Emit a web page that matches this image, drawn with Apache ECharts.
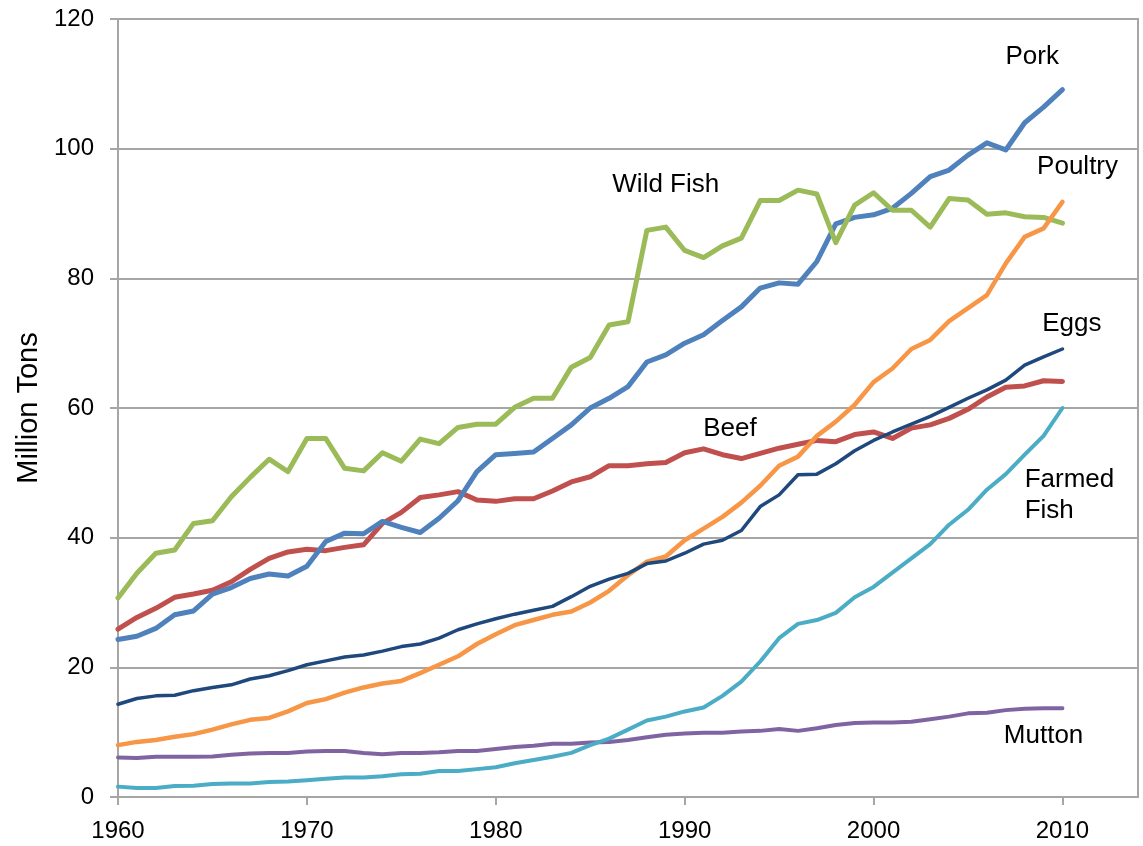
<!DOCTYPE html>
<html><head><meta charset="utf-8">
<script src="https://cdn.jsdelivr.net/npm/echarts@6/dist/echarts.min.js"></script>
<style>html,body{margin:0;padding:0;background:#fff}#c{width:1143px;height:846px}</style>
</head><body><div id="c"></div>
<script>
const years = [];
for (let y = 1960; y <= 2010; y++) years.push(y);

const xTicks = [1960, 1970, 1980, 1990, 2000, 2010];
const yTicks = [0, 20, 40, 60, 80, 100, 120];

const pork = [24.3,24.8,26.0,28.1,28.7,31.3,32.3,33.7,34.4,34.1,
  35.6,39.4,40.7,40.6,42.5,41.6,40.8,43.0,45.7,50.2,
  52.8,53.0,53.2,55.3,57.4,60.0,61.5,63.3,67.1,68.2,
  70.0,71.3,73.5,75.6,78.5,79.3,79.1,82.6,88.4,89.4,
  89.8,90.8,93.1,95.7,96.7,99.0,100.9,99.8,104.0,106.4,
  109.1];
const poultry = [8.0,8.5,8.8,9.3,9.7,10.4,11.2,11.9,12.2,13.2,
  14.5,15.1,16.1,16.9,17.5,17.9,19.1,20.4,21.7,23.6,
  25.1,26.5,27.3,28.1,28.6,30.0,31.8,34.2,36.3,37.1,
  39.6,41.4,43.2,45.4,48.0,51.1,52.5,55.7,57.9,60.5,
  64.0,66.1,69.1,70.5,73.4,75.4,77.4,82.3,86.4,87.7,
  91.8];
const eggs = [14.3,15.2,15.6,15.7,16.4,16.9,17.3,18.2,18.7,19.5,
  20.4,21.0,21.6,21.9,22.5,23.2,23.6,24.5,25.8,26.7,
  27.5,28.2,28.8,29.4,30.9,32.5,33.6,34.5,36.0,36.4,
  37.6,39.0,39.6,41.1,44.8,46.6,49.7,49.8,51.4,53.4,
  55.0,56.3,57.5,58.7,60.1,61.5,62.8,64.3,66.6,67.9,
  69.1];
const beef = [25.9,27.7,29.1,30.8,31.3,31.9,33.2,35.1,36.8,37.8,
  38.2,38.0,38.5,38.9,42.2,43.9,46.2,46.6,47.1,45.8,
  45.6,46.0,46.0,47.2,48.6,49.4,51.1,51.1,51.4,51.6,
  53.1,53.7,52.8,52.2,53.0,53.8,54.4,55.0,54.8,55.9,
  56.3,55.3,56.9,57.4,58.4,59.8,61.7,63.2,63.4,64.2,
  64.1];
const wildFish = [30.7,34.5,37.6,38.1,42.2,42.6,46.3,49.3,52.1,50.2,
  55.3,55.3,50.7,50.3,53.1,51.8,55.2,54.5,57.0,57.5,
  57.5,60.1,61.5,61.5,66.3,67.8,72.8,73.3,87.4,87.9,
  84.3,83.2,85.0,86.2,92.0,92.0,93.6,93.0,85.5,91.3,
  93.2,90.5,90.5,87.9,92.3,92.1,89.9,90.1,89.5,89.4,
  88.5];
const farmedFish = [1.6,1.4,1.4,1.7,1.75,2.0,2.1,2.1,2.3,2.4,
  2.6,2.8,3.0,3.0,3.2,3.5,3.6,4.0,4.0,4.3,
  4.6,5.2,5.7,6.2,6.8,8.0,9.0,10.4,11.8,12.4,
  13.2,13.8,15.6,17.8,20.9,24.5,26.7,27.3,28.4,30.8,
  32.4,34.6,36.8,39.0,42.0,44.3,47.4,49.8,52.8,55.7,
  60.0];
const mutton = [6.1,6.0,6.2,6.2,6.2,6.25,6.5,6.7,6.8,6.8,
  7.0,7.1,7.1,6.8,6.6,6.8,6.8,6.9,7.1,7.1,
  7.4,7.7,7.9,8.2,8.2,8.4,8.5,8.8,9.2,9.6,
  9.8,9.9,9.9,10.1,10.2,10.5,10.2,10.6,11.1,11.4,
  11.5,11.5,11.6,12.0,12.4,12.9,13.0,13.4,13.6,13.7,
  13.7];

// series labels anchored in data coordinates
const seriesLabels = [
  {text: 'Pork', at: [2008.4, 114.1], align: 'center'},
  {text: 'Poultry', at: [2010.8, 97.2], align: 'center'},
  {text: 'Eggs', at: [2010.5, 73.0], align: 'center'},
  {text: 'Beef', at: [1992.4, 56.8], align: 'center'},
  {text: 'Wild Fish', at: [1989.0, 94.4], align: 'center'},
  {text: 'Farmed\nFish', at: [2008.0, 46.6], align: 'left'},
  {text: 'Mutton', at: [2009.0, 9.4], align: 'center'}
];

const FONT = 'Liberation Sans, Arial, sans-serif';
const pair = arr => years.map((y, i) => [y, arr[i]]);

const defs = [
  {name: 'Mutton', data: mutton, color: '#8064A2', w: 4},
  {name: 'Farmed Fish', data: farmedFish, color: '#4BACC6', w: 4},
  {name: 'Beef', data: beef, color: '#C0504D', w: 5},
  {name: 'Pork', data: pork, color: '#4F81BD', w: 5},
  {name: 'Wild Fish', data: wildFish, color: '#9BBB59', w: 5},
  {name: 'Poultry', data: poultry, color: '#F79646', w: 4.5},
  {name: 'Eggs', data: eggs, color: '#1F497D', w: 3.5}
];

const chart = echarts.init(document.getElementById('c'), null, {renderer: 'canvas'});
chart.setOption({
  animation: false,
  backgroundColor: '#fff',
  grid: {left: 118, top: 19, right: 5, bottom: 49, show: true, borderColor: '#A6A6A6', borderWidth: 2},
  xAxis: {
    type: 'value', min: 1960, max: 2014, interval: 10,
    axisLine: {show: true, lineStyle: {color: '#A6A6A6', width: 2}},
    axisTick: {show: true, length: 8, lineStyle: {color: '#A6A6A6', width: 2}},
    axisLabel: {color: '#000', fontFamily: FONT, fontSize: 24, margin: 22, showMaxLabel: false,
      formatter: v => xTicks.includes(v) ? String(v) : ''},
    splitLine: {show: false}
  },
  yAxis: {
    type: 'value', min: 0, max: 120, interval: 20,
    name: 'Million Tons', nameLocation: 'middle', nameRotate: 90, nameGap: 70,
    nameTextStyle: {color: '#000', fontFamily: FONT, fontSize: 29},
    axisLine: {show: true, lineStyle: {color: '#A6A6A6', width: 2}},
    axisTick: {show: true, length: 8, lineStyle: {color: '#A6A6A6', width: 2}},
    axisLabel: {color: '#000', fontFamily: FONT, fontSize: 24, margin: 24,
      formatter: v => yTicks.includes(v) ? String(v) : ''},
    splitLine: {show: true, lineStyle: {color: '#A6A6A6', width: 2}}
  },
  series: defs.map(d => ({
    name: d.name, type: 'line', data: pair(d.data), showSymbol: false, symbol: 'none',
    lineStyle: {color: d.color, width: d.w, join: 'round', cap: 'round'},
    itemStyle: {color: d.color}
  }))
});

const gfx = seriesLabels.map(l => {
  const p = chart.convertToPixel({gridIndex: 0}, l.at);
  return {
    type: 'text', x: p[0], y: p[1], z: 100,
    style: {text: l.text, fill: '#000', font: '26px ' + FONT, align: l.align, verticalAlign: 'middle', lineHeight: 31}
  };
});
chart.setOption({graphic: gfx});
</script></body></html>
